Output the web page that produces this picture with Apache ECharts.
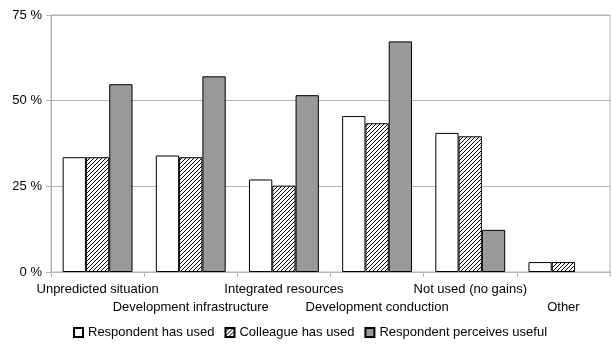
<!DOCTYPE html>
<html>
<head>
<meta charset="utf-8">
<script src="https://cdn.jsdelivr.net/npm/echarts@6/dist/echarts.min.js"></script>
<style>html,body{margin:0;padding:0;background:#fff}#c{width:611px;height:347px}</style>
</head>
<body>
<div id="c"></div>
<script>
const categories = ["Unpredicted situation","Development infrastructure","Integrated resources","Development conduction","Not used (no gains)","Other"];
const seriesNames = ["Respondent has used","Colleague has used","Respondent perceives useful"];
const respondentUsed = [33.5, 34.0, 27.0, 45.5, 40.6, 2.9];
const colleagueUsed = [33.5, 33.5, 25.2, 43.4, 39.6, 2.9];
const perceivesUseful = [54.8, 57.1, 51.6, 67.3, 12.3, null];
const yTicks = [0, 25, 50, 75];

function hatch() {
  const c = document.createElement('canvas');
  c.width = 4; c.height = 4;
  const g = c.getContext('2d');
  g.fillStyle = '#fff'; g.fillRect(0,0,4,4);
  g.strokeStyle = '#000'; g.lineWidth = 1;
  g.beginPath();
  g.moveTo(-1,5); g.lineTo(5,-1);
  g.moveTo(-1,1); g.lineTo(1,-1);
  g.moveTo(3,5); g.lineTo(5,3);
  g.stroke();
  return c;
}
const chart = echarts.init(document.getElementById('c'), null, {renderer:'canvas'});
const font = 'Liberation Sans';
chart.setOption({
  animation:false,
  textStyle:{fontFamily:font},
  grid:{left:51, right:1, top:15, bottom:75, containLabel:false, show:true, borderColor:'#b3b3b3', borderWidth:1},
  legend:{
    bottom:3, left:68, itemWidth:9, itemHeight:9, itemGap:10,
    textStyle:{fontFamily:font, fontSize:13, color:'#000'},
    data:seriesNames.map(n=>({name:n, icon:'rect'}))
  },
  xAxis:{
    type:'category', data:categories,
    axisLine:{lineStyle:{color:'#b3b3b3'}},
    axisTick:{show:true, length:5, lineStyle:{color:'#b3b3b3'}},
    axisLabel:{interval:0, fontFamily:font, fontSize:13, color:'#000', margin:8, lineHeight:18,
      formatter:(v,i)=> i%2===1 ? '\n'+v : v}
  },
  yAxis:{
    type:'value', min:yTicks[0], max:yTicks[yTicks.length-1], interval:25,
    axisLine:{show:true, lineStyle:{color:'#b3b3b3'}},
    axisTick:{show:true, length:5, lineStyle:{color:'#b3b3b3'}},
    splitLine:{lineStyle:{color:'#b3b3b3'}},
    axisLabel:{fontFamily:font, fontSize:13, color:'#000', margin:9, formatter:v=>v+' %'}
  },
  series:[
    {name:seriesNames[0], type:'bar', data:respondentUsed, barGap:'0%', barCategoryGap:'25%',
     itemStyle:{color:'#fff', borderColor:'#000', borderWidth:1}},
    {name:seriesNames[1], type:'bar', data:colleagueUsed,
     itemStyle:{color:{image:hatch(), repeat:'repeat'}, borderColor:'#000', borderWidth:1}},
    {name:seriesNames[2], type:'bar', data:perceivesUseful,
     itemStyle:{color:'#999999', borderColor:'#000', borderWidth:1}}
  ]
});
</script>
</body>
</html>
